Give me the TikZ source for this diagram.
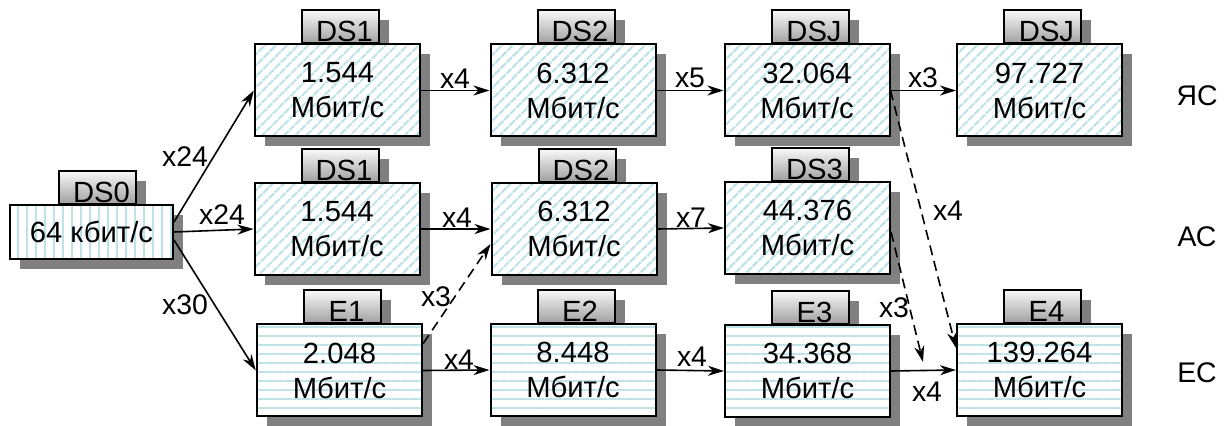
\documentclass[tikz,border=0pt]{standalone}
\usepackage{fontspec}
\setmainfont{Liberation Sans}
\usepackage{xcolor}
\usetikzlibrary{positioning, arrows.meta, shadows, patterns.meta}
\definecolor{hInk}{HTML}{000000}
\definecolor{hStripe}{HTML}{BDE3E8}
\definecolor{hShadow}{HTML}{808080}
\tikzset{
  boxshadow/.style={drop shadow={shadow xshift=5pt, shadow yshift=-5pt, fill=hShadow, opacity=1}},
  ratebox/.style={draw=hInk, line width=1pt, boxshadow, preaction={fill=white},
    minimum width=82.5pt, minimum height=46pt, inner sep=1pt, align=center,
    font=\fontsize{14.6}{17.5}\selectfont},
  dsbox/.style={ratebox, pattern={Lines[angle=45, distance=4pt, line width=1.2pt]}, pattern color=hStripe},
  ebox/.style={ratebox, pattern={Lines[angle=0, distance=4.5pt, line width=1.2pt]}, pattern color=hStripe},
  basebox/.style={ratebox, minimum width=81.5pt, minimum height=27pt,
    pattern={Lines[angle=90, distance=4.5pt, line width=1pt]}, pattern color=hStripe},
  tabbox/.style={draw=hInk, line width=1pt, boxshadow, top color=gray!5, bottom color=gray!75,
    minimum width=38.5pt, minimum height=16.5pt, inner sep=0pt,
    text height=15pt, text depth=0pt, font=\fontsize{14.6}{16}\selectfont},
  rate/.style={-{Stealth[length=8pt, width=5pt, inset=2.5pt]}, line width=0.8pt, hInk},
  rated/.style={rate, dash pattern=on 5pt off 3pt},
  mux/.style={font=\fontsize{14.2}{16}\selectfont, inner sep=0pt, text=hInk},
}

\begin{document}
\begin{tikzpicture}[x=0.5pt, y=-0.5pt]
  \useasboundingbox (0,0) rectangle (1230,426);

  % source
  \node[tabbox, anchor=south] (ds0-tab) at (97.5,205) {\hspace*{4pt}DS0};
  \node[basebox] (ds0) at (91.5,232) {64 кбит/с};

  % hierarchy levels
  \foreach \n/\x/\y/\t/\v/\s in {
      j1/337.5/90.5/DS1/1.544/dsbox, j2/573/90.5/DS2/6.312/dsbox,
      j3/807/90.5/DSJ/32.064/dsbox, j4/1039.5/90.5/DSJ/97.727/dsbox,
      a1/337/229/DS1/1.544/dsbox, a2/574/229/DS2/6.312/dsbox, a3/807.5/228/DS3/44.376/dsbox,
      e1/339.5/370.5/E1/2.048/ebox, e2/573/370/E2/8.448/ebox,
      e3/807.5/371/E3/34.368/ebox, e4/1039.5/370/E4/139.264/ebox} {
    \node[tabbox, anchor=south] (\n-tab) at (\x+3,\y-46) {\hspace*{4pt}\t};
    \node[\s] (\n) at (\x,\y) {\v\\Мбит/с};
  }

  % standards
  \node[mux] (netj) at (1197,96) {ЯС};
  \node[mux] (neta) at (1197,237) {АС};
  \node[mux] (nete) at (1197,373) {ЕС};

  \draw[rate] ([yshift=5pt]ds0.east) -- (j1.west);
  \draw[rate] (ds0.east) -- (a1.west);
  \draw[rate] ([yshift=-4pt]ds0.east) -- (e1.west);
  \foreach \p/\q in {j1/j2, j2/j3, j3/j4, a1/a2, a2/a3, e1/e2, e2/e3, e3/e4}
    \draw[rate] (\p.east) -- (\q.west);

  \draw[rated] ([yshift=13.5pt]e1.east) -- ([yshift=-7.5pt]a2.west);
  \draw[rated] (j3.east) -- ([yshift=11pt]e4.west);
  \coordinate (a3-drop) at (923,362);
  \draw[rated] ([yshift=-2pt]a3.east) -- (a3-drop);

  % multiplexing factors
  \foreach \n/\x/\y/\t in {1/185/157/x24, 2/222/215/x24, 3/185/305/x30,
      4/455/79/x4, 5/690/78/x5, 6/923/78/x3, 7/457/218/x4, 8/691/218/x7,
      9/948/211/x4, 10/436/297/x3, 11/459/360/x4, 12/692/357/x4,
      13/894/308/x3, 14/927/392/x4}
    \node[mux] (m\n) at (\x,\y) {\t};
\end{tikzpicture}
\end{document}
